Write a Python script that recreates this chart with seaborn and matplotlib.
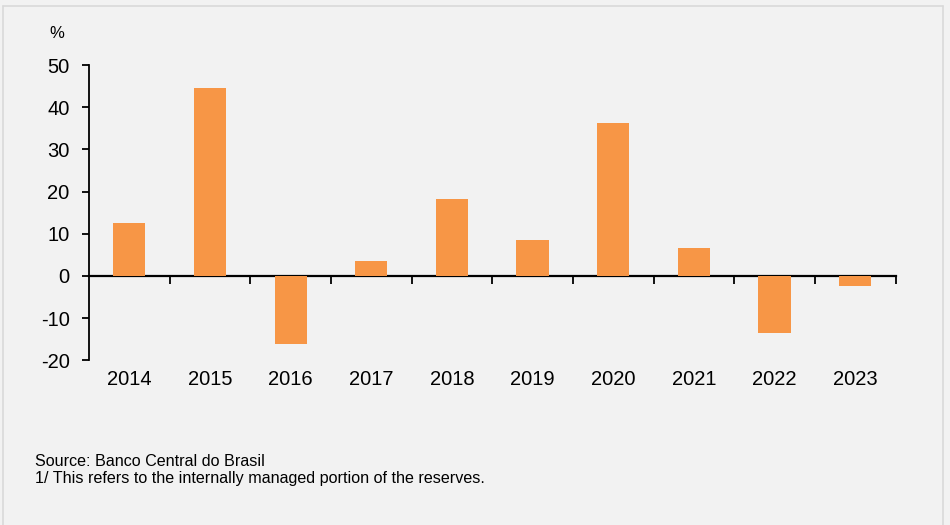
import matplotlib
matplotlib.use("Agg")
import matplotlib.pyplot as plt
from matplotlib.lines import Line2D
import seaborn as sns
import pandas as pd

years = ["2014", "2015", "2016", "2017", "2018", "2019", "2020", "2021", "2022", "2023"]
returns = [12.6, 44.6, -16.1, 3.6, 18.3, 8.5, 36.3, 6.6, -13.5, -2.5]
y_ticks = [-20, -10, 0, 10, 20, 30, 40, 50]
source_note = "Source: Banco Central do Brasil"
footnote = "1/ This refers to the internally managed portion of the reserves."

bg = "#f2f2f2"
bar_color = "#f79646"

sns.set_theme(style="white")
plt.rcParams["font.family"] = ["Liberation Sans", "DejaVu Sans"]
plt.rcParams["axes.unicode_minus"] = False

df = pd.DataFrame({"year": years, "value": returns})

fig = plt.figure(figsize=(9.5, 5.25), dpi=100, facecolor=bg)
ax = fig.add_axes([0.0937, 0.314, 0.849, 0.562])
ax.set_facecolor(bg)

sns.barplot(data=df, x="year", y="value", color=bar_color, width=0.4,
            saturation=1, edgecolor="none", ax=ax)

ymin, ymax = -20, 50
ax.set_ylim(ymin, ymax)
ax.set_xlim(-0.5, len(years) - 0.5)
ax.set_xlabel("")
ax.set_ylabel("")

ax.set_yticks(y_ticks)
ax.tick_params(axis="y", direction="out", length=5, width=1.3, pad=9,
               labelsize=14.5, colors="black", left=True)

# year labels along the bottom of the axes, no tick marks
ax.set_xticks(range(len(years)))
ax.set_xticklabels(years)
ax.tick_params(axis="x", length=0, pad=7, labelsize=14.5, colors="black")

for side in ["top", "right", "bottom"]:
    ax.spines[side].set_visible(False)
ax.spines["left"].set_color("black")
ax.spines["left"].set_linewidth(1.3)

# zero line with category-boundary ticks
zero_pos = (0 - ymin) / (ymax - ymin)
sec = ax.secondary_xaxis(zero_pos)
sec.set_xticks([i - 0.5 for i in range(1, len(years) + 1)])
sec.set_xticklabels([])
sec.tick_params(axis="x", direction="out", length=6, width=1.3, colors="black")
sec.spines["bottom"].set_color("black")
sec.spines["bottom"].set_linewidth(1.6)
for side in ["top", "left", "right"]:
    if side in sec.spines:
        sec.spines[side].set_visible(False)

fig.text(57 / 950, 1 - 33 / 525, "%", ha="center", va="center", fontsize=12, color="black")
fig.text(35 / 950, 1 - 461 / 525, source_note, ha="left", va="center", fontsize=11.6, color="black")
fig.text(35 / 950, 1 - 478 / 525, footnote, ha="left", va="center", fontsize=11.6, color="black")

# thin frame around the panel
frame = "#d9d9d9"
fig.add_artist(Line2D([3 / 950, 943 / 950], [1 - 6 / 525, 1 - 6 / 525], color=frame, lw=1.2, transform=fig.transFigure))
fig.add_artist(Line2D([3 / 950, 3 / 950], [0, 1 - 6 / 525], color=frame, lw=1.2, transform=fig.transFigure))
fig.add_artist(Line2D([943 / 950, 943 / 950], [0, 1 - 6 / 525], color=frame, lw=1.2, transform=fig.transFigure))

fig.savefig("out.png", dpi=100, facecolor=bg)
